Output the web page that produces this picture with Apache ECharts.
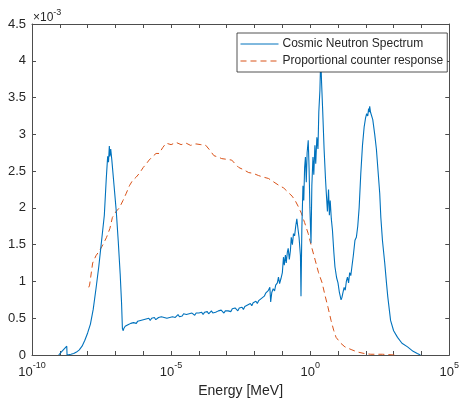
<!DOCTYPE html>
<html>
<head>
<meta charset="utf-8">
<script src="https://cdn.jsdelivr.net/npm/echarts@6/dist/echarts.min.js"></script>
<style>
html,body{margin:0;padding:0;background:#fff;}
#chart{width:462px;height:403px;}
</style>
</head>
<body>
<div id="chart"></div>
<script>
// Cosmic neutron spectrum: log10(Energy [MeV]) and flux (x 1e-3)
var spectrumLogE = [
  -9.04,-8.95,-8.85,-8.75,-8.74,-8.6,-8.5,-8.4,-8.3,-8.2,
  -8.1,-8.0,-7.9,-7.8,-7.7,-7.6,-7.5,-7.4,-7.33,-7.28,
  -7.25,-7.22,-7.2,-7.17,-7.13,-7.05,-6.97,-6.9,-6.83,-6.78,
  -6.75,-6.72,
  -6.70,-6.65,-6.60,-6.55,-6.50,
  -6.45,-6.40,-6.35,-6.30,-6.25,-6.20,-6.15,-6.10,-6.05,-6.00,
  -5.95,-5.90,-5.85,-5.80,-5.75,-5.70,-5.65,-5.60,-5.55,-5.50,
  -5.45,-5.40,-5.35,-5.30,-5.25,-5.20,-5.15,-5.10,-5.05,-5.00,
  -4.95,-4.90,-4.85,-4.80,-4.75,-4.70,-4.65,-4.60,-4.55,-4.50,
  -4.45,-4.40,-4.35,-4.30,-4.25,-4.20,-4.15,-4.10,-4.05,-4.00,
  -3.95,-3.90,-3.85,-3.80,-3.75,-3.70,-3.65,-3.60,-3.55,-3.50,
  -3.45,-3.40,-3.35,-3.30,-3.25,-3.20,-3.15,-3.10,-3.05,-3.00,
  -2.95,-2.90,-2.85,-2.80,-2.75,-2.70,-2.65,-2.60,-2.55,-2.50,
  -2.45,-2.40,-2.35,-2.30,-2.25,-2.20,-2.15,-2.10,-2.05,-2.00,
  -1.95,-1.90,-1.85,-1.80,-1.75,-1.70,-1.65,-1.60,
  -1.55,-1.50,-1.45,-1.42,-1.38,-1.33,-1.28,-1.24,-1.18,-1.14,
  -1.10,-1.05,-1.00,-0.96,-0.93,-0.89,-0.86,-0.82,-0.79,-0.75,
  -0.71,-0.68,-0.64,-0.60,-0.56,-0.52,-0.48,-0.44,-0.40,-0.35,
  -0.33,-0.30,-0.26,-0.23,-0.20,-0.17,-0.14,-0.11,-0.07,-0.04,
  -0.01,0.03,0.06,0.10,0.13,0.17,0.20,0.24,0.28,0.31,
  0.35,0.38,0.41,0.45,0.50,0.55,0.58,0.62,0.66,0.69,
  0.72,0.76,0.80,0.85,0.89,0.95,1.00,1.05,1.11,1.14,
  1.18,1.22,1.26,1.30,1.34,1.38,1.42,1.46,1.50,1.55,
  1.61,1.66,1.71,1.76,1.82,1.88,1.94,1.99,2.03,2.07,
  2.10,2.12,2.14,2.17,2.20,2.25,2.32,2.38,2.43,2.50,
  2.54,2.60,2.68,2.75,2.79,2.85,2.89,3.00,3.14,3.30,
  3.50,3.70,3.85,3.96
];
var spectrumFlux = [
  0,0.04,0.08,0.12,0.0,0.01,0.02,0.04,0.07,0.12,
  0.2,0.3,0.42,0.62,0.9,1.2,1.55,1.9,2.4,2.7,
  2.62,2.84,2.7,2.8,2.65,2.3,1.95,1.55,1.1,0.7,
  0.36,0.33,
  0.36,0.39,0.37,0.41,0.42,
  0.43,0.41,0.44,0.45,0.43,0.46,0.44,0.47,0.46,0.48,
  0.47,0.49,0.48,0.50,0.47,0.50,0.49,0.51,0.48,0.50,
  0.51,0.49,0.52,0.50,0.51,0.53,0.50,0.52,0.51,0.53,
  0.52,0.54,0.51,0.53,0.55,0.52,0.54,0.53,0.56,0.54,
  0.55,0.53,0.56,0.54,0.57,0.55,0.54,0.57,0.55,0.57,
  0.56,0.58,0.55,0.58,0.57,0.59,0.56,0.58,0.60,0.57,
  0.59,0.58,0.56,0.60,0.58,0.61,0.59,0.57,0.60,0.62,
  0.60,0.62,0.59,0.63,0.61,0.64,0.62,0.60,0.64,0.63,
  0.65,0.62,0.66,0.64,0.68,0.66,0.70,0.67,0.71,0.69,
  0.73,0.70,0.74,0.72,0.77,0.75,0.80,0.84,
  0.82,0.88,0.92,0.72,0.85,0.90,0.87,0.95,0.98,1.06,
  0.97,1.04,1.12,1.33,1.22,1.36,1.25,1.40,1.45,1.30,
  1.42,1.60,1.50,1.65,1.62,1.75,1.85,1.72,1.60,1.35,
  0.80,1.70,2.30,2.10,2.55,2.69,2.35,2.75,2.92,2.55,
  2.00,1.52,2.30,2.69,2.45,2.85,2.60,2.96,2.80,3.30,
  3.60,4.05,3.70,3.32,2.80,2.40,2.20,1.95,2.25,1.90,
  2.10,1.85,1.70,1.40,1.20,1.05,0.98,0.85,0.75,0.78,
  0.85,0.92,0.88,1.00,1.06,0.98,1.12,1.08,1.20,1.35,
  1.56,1.60,1.75,2.00,2.47,2.85,3.10,3.22,3.28,3.25,
  3.35,3.30,3.38,3.30,3.32,3.20,3.00,2.80,2.55,2.20,
  1.87,1.55,1.25,0.95,0.79,0.60,0.47,0.33,0.24,0.16,
  0.11,0.05,0.02,0.0
];
// Proportional counter response: log10(Energy [MeV]) and response (x 1e-3)
var responseLogE = [
  -7.96,-7.93,-7.82,-7.7,-7.57,-7.45,-7.32,-7.2,-7.11,-6.98,
  -6.86,-6.73,-6.61,-6.5,-6.39,-6.25,-6.14,-6.0,-5.89,-5.79,
  -5.66,-5.54,-5.43,-5.3,-5.18,-5.0,-4.82,-4.64,-4.46,-4.3,
  -4.11,-3.93,-3.75,-3.6,-3.46,-3.3,-3.18,-3.0,-2.82,-2.7,
  -2.57,-2.4,-2.21,-2.05,-1.86,-1.7,-1.5,-1.3,-1.14,-0.95,
  -0.79,-0.65,-0.54,-0.43,-0.32,-0.2,-0.07,0.05,0.18,0.3,
  0.43,0.54,0.64,0.75,0.85,0.93,1.1,1.25,1.5,1.71,
  1.95,2.18,2.6,3.04
];
var responseValue = [
  0.92,0.95,1.25,1.35,1.42,1.5,1.6,1.72,1.87,1.95,
  2.0,2.1,2.2,2.3,2.37,2.42,2.47,2.55,2.6,2.65,
  2.7,2.74,2.74,2.82,2.88,2.86,2.89,2.86,2.88,2.85,
  2.87,2.86,2.85,2.78,2.71,2.69,2.67,2.66,2.65,2.6,
  2.55,2.52,2.48,2.47,2.44,2.42,2.40,2.35,2.31,2.27,
  2.21,2.16,2.1,2.02,1.93,1.8,1.65,1.47,1.29,1.12,
  0.98,0.8,0.65,0.47,0.33,0.24,0.16,0.11,0.07,0.04,
  0.02,0.01,0.01,0.0
];
var xTickExponents = [-10, -5, 0, 5];
var yTicks = [0, 0.5, 1, 1.5, 2, 2.5, 3, 3.5, 4, 4.5];
var seriesNames = ['Cosmic Neutron Spectrum', 'Proportional counter response'];

var FONT = '"Liberation Sans", Arial, Helvetica, sans-serif';
var AXC = '#4d4d4d';
var TXC = '#262626';

function toPairs(logE, vals) {
  return logE.map(function (e, i) { return [Math.pow(10, e), vals[i]]; });
}

var chart = echarts.init(document.getElementById('chart'), null, {renderer: 'canvas'});
var xLab = {
  show: true,
  margin: 6,
  formatter: function (v) {
    var n = Math.round(v);
    return xTickExponents.indexOf(n) >= 0 ? '{b|10}{s|' + n + '}' : '';
  },
  rich: {
    b: {fontSize: 13, fontFamily: FONT, color: TXC, lineHeight: 18, verticalAlign: 'bottom'},
    s: {fontSize: 9, fontFamily: FONT, color: TXC, verticalAlign: 'top'}
  }
};
var grid = {left: 32, right: 9, top: 24, bottom: 48, containLabel: false};
chart.setOption({
  animation: false,
  backgroundColor: '#fff',
  grid: grid,
  xAxis: [
    {type: 'log', logBase: 10, min: 1e-10, max: 1e5, show: false, gridIndex: 0},
    {type: 'value', min: -10, max: 5, interval: 1, position: 'bottom', gridIndex: 0,
     name: 'Energy [MeV]', nameLocation: 'middle', nameGap: 29,
     nameTextStyle: {fontSize: 14, fontFamily: FONT, color: TXC},
     axisLine: {show: true, onZero: false, lineStyle: {color: AXC, width: 1}},
     axisTick: {show: true, inside: true, length: 4, lineStyle: {color: AXC}},
     splitLine: {show: false},
     axisLabel: xLab},
    {type: 'value', min: -10, max: 5, interval: 1, position: 'top', gridIndex: 0,
     axisLine: {show: true, onZero: false, lineStyle: {color: AXC, width: 1}},
     axisTick: {show: true, inside: true, length: 4, lineStyle: {color: AXC}},
     splitLine: {show: false}, axisLabel: {show: false}}
  ],
  yAxis: [
    {type: 'value', min: 0, max: 4.5, interval: 0.5, position: 'left',
     axisLine: {show: true, onZero: false, lineStyle: {color: AXC, width: 1}},
     axisTick: {show: true, inside: true, length: 4, lineStyle: {color: AXC}},
     splitLine: {show: false},
     axisLabel: {fontSize: 13, fontFamily: FONT, color: TXC, margin: 6,
       formatter: function (v) { return String(Math.round(v * 10) / 10); }}},
    {type: 'value', min: 0, max: 4.5, interval: 0.5, position: 'right',
     axisLine: {show: true, onZero: false, lineStyle: {color: AXC, width: 1}},
     axisTick: {show: true, inside: true, length: 4, lineStyle: {color: AXC}},
     splitLine: {show: false}, axisLabel: {show: false}}
  ],
  legend: {
    left: 237, top: 33, orient: 'vertical',
    data: seriesNames,
    backgroundColor: '#fff', borderColor: '#262626', borderWidth: 0.8, borderRadius: 0,
    padding: [5, 4, 5, 3],
    itemWidth: 38, itemHeight: 12, itemGap: 5,
    itemStyle: {opacity: 0, borderWidth: 0},
    lineStyle: {width: 1},
    textStyle: {fontSize: 12, fontFamily: FONT, color: TXC, padding: [0, 0, 0, -1]},
    selectedMode: false
  },
  graphic: [{
    type: 'text', left: 33, top: 8, z: 10,
    style: {
      text: '{a|×10}{b|-3}',
      rich: {
        a: {fontSize: 12, fontFamily: FONT, fill: TXC, lineHeight: 16, verticalAlign: 'bottom'},
        b: {fontSize: 9, fontFamily: FONT, fill: TXC, verticalAlign: 'top'}
      }
    }
  }],
  series: [
    {name: seriesNames[0], type: 'line', xAxisIndex: 0, yAxisIndex: 0,
     data: toPairs(spectrumLogE, spectrumFlux),
     showSymbol: false, symbol: 'none', clip: true,
     lineStyle: {color: '#0072BD', width: 1.1},
     itemStyle: {color: '#0072BD'}, z: 3},
    {name: seriesNames[1], type: 'line', xAxisIndex: 0, yAxisIndex: 0,
     data: toPairs(responseLogE, responseValue),
     showSymbol: false, symbol: 'none', clip: true,
     lineStyle: {color: '#D95319', width: 1, type: [6, 4]},
     itemStyle: {color: '#D95319'}, z: 2}
  ]
});
</script>
</body>
</html>
